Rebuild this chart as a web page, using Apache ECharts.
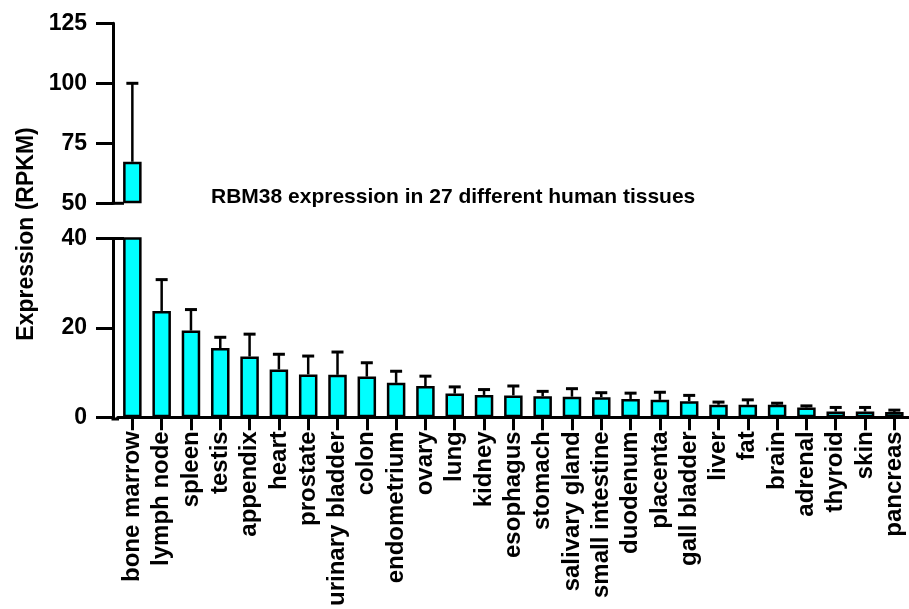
<!DOCTYPE html>
<html>
<head>
<meta charset="utf-8">
<script src="https://cdn.jsdelivr.net/npm/echarts@6/dist/echarts.min.js"></script>
<style>
html,body{margin:0;padding:0;background:#fff;}
#chart{width:909px;height:609px;}
</style>
</head>
<body>
<div id="chart"></div>
<script>
const tissues = ['bone marrow','lymph node','spleen','testis','appendix','heart','prostate','urinary bladder','colon','endometrium','ovary','lung','kidney','esophagus','stomach','salivary gland','small intestine','duodenum','placenta','gall bladder','liver','fat','brain','adrenal','thyroid','skin','pancreas'];
const means = [67.3,23.8,19.4,15.5,13.6,10.7,9.6,9.5,9.1,7.7,7.0,5.3,5.0,4.9,4.7,4.6,4.5,4.1,3.9,3.6,2.8,2.8,2.8,2.2,1.3,1.3,1.2];
const errors = [32.7,7.0,4.7,2.4,5.0,3.4,4.1,5.1,3.1,2.6,2.2,1.5,1.2,2.1,1.1,1.8,1.0,1.3,1.7,1.3,0.6,1.1,0.35,0.35,0.9,0.9,0.4];
const lowerAxis = {min:0, max:40, interval:20};
const upperAxis = {min:50, max:125, interval:25};
const titleText = 'RBM38 expression in 27 different human tissues';
const yTitle = 'Expression (RPKM)';

const FONT = '"Liberation Sans", Arial, Helvetica, sans-serif';
const BAR_COLOR = '#00FFFF';

const chart = echarts.init(document.getElementById('chart'), null, {renderer:'canvas'});

const errData = tissues.map((t,i)=>[i, means[i], means[i]+errors[i]]);

function makeErr(lo, hi){
  return function(params, api){
    const m = api.value(1), u = api.value(2);
    if (m > hi || m < lo) return null;
    const p0 = api.coord([api.value(0), m]);
    const p1 = api.coord([api.value(0), u]);
    const hw = 6;
    return {
      type:'group',
      children:[
        {type:'line', shape:{x1:p0[0], y1:p0[1], x2:p1[0], y2:p1[1]}, style:{stroke:'#000', lineWidth:2.5}},
        {type:'line', shape:{x1:p1[0]-hw, y1:p1[1], x2:p1[0]+hw, y2:p1[1]}, style:{stroke:'#000', lineWidth:3}}
      ]
    };
  };
}

const axisLineStyle = {color:'#000', width:3};
const yLabel = {color:'#000', fontSize:23, fontWeight:'bold', fontFamily:FONT, margin:26};

const option = {
  animation:false,
  backgroundColor:'#fff',
  grid:[
    {left:117.7, width:792, top:238.5, height:180.5},
    {left:117.7, width:792, top:23.3, height:180}
  ],
  xAxis:[
    {type:'category', gridIndex:0, data:tissues,
     axisLine:{show:true, lineStyle:axisLineStyle},
     axisTick:{show:true, alignWithLabel:true, length:13, lineStyle:axisLineStyle},
     axisLabel:{rotate:90, interval:0, margin:14, color:'#000', fontSize:24, fontWeight:'bold', fontFamily:FONT}
    },
    {type:'category', gridIndex:1, data:tissues, show:false}
  ],
  yAxis:[
    {type:'value', gridIndex:0, min:lowerAxis.min, max:lowerAxis.max, interval:lowerAxis.interval, offset:4.7,
     axisLine:{show:true, lineStyle:axisLineStyle},
     axisTick:{show:true, length:17, lineStyle:axisLineStyle},
     splitLine:{show:false}, axisLabel:yLabel},
    {type:'value', gridIndex:1, min:upperAxis.min, max:upperAxis.max, interval:upperAxis.interval, offset:4.7, startValue:upperAxis.min,
     axisLine:{show:true, lineStyle:axisLineStyle},
     axisTick:{show:true, length:17, lineStyle:axisLineStyle},
     splitLine:{show:false}, axisLabel:yLabel}
  ],
  series:[
    {type:'bar', xAxisIndex:0, yAxisIndex:0, data:means, barWidth:18.5,
     itemStyle:{color:BAR_COLOR, borderColor:'#000', borderWidth:2.5}},
    {type:'bar', xAxisIndex:1, yAxisIndex:1, data:means.map(v => v > upperAxis.min ? v : null), barWidth:18.5,
     itemStyle:{color:BAR_COLOR, borderColor:'#000', borderWidth:2.5}},
    {type:'custom', xAxisIndex:0, yAxisIndex:0, data:errData, renderItem:makeErr(lowerAxis.min, lowerAxis.max), z:5},
    {type:'custom', xAxisIndex:1, yAxisIndex:1, data:errData, renderItem:makeErr(upperAxis.min, upperAxis.max), z:5}
  ],
  graphic:[
    {type:'text', x:211, y:197, style:{text:titleText, font:'bold 21px ' + FONT, fill:'#000', textAlign:'left', textVerticalAlign:'middle'}},
    {type:'text', x:27, y:234, rotation:Math.PI/2, style:{text:yTitle, font:'bold 23px ' + FONT, fill:'#000', textAlign:'center', textVerticalAlign:'middle'}},
    {type:'line', shape:{x1:111.5, y1:419, x2:119, y2:419}, style:{stroke:'#000', lineWidth:3}},
    {type:'line', shape:{x1:111.5, y1:238.5, x2:124, y2:238.5}, style:{stroke:'#000', lineWidth:3}},
    {type:'line', shape:{x1:111.5, y1:203.3, x2:124, y2:203.3}, style:{stroke:'#000', lineWidth:3}}
  ]
};
chart.setOption(option);
</script>
</body>
</html>
